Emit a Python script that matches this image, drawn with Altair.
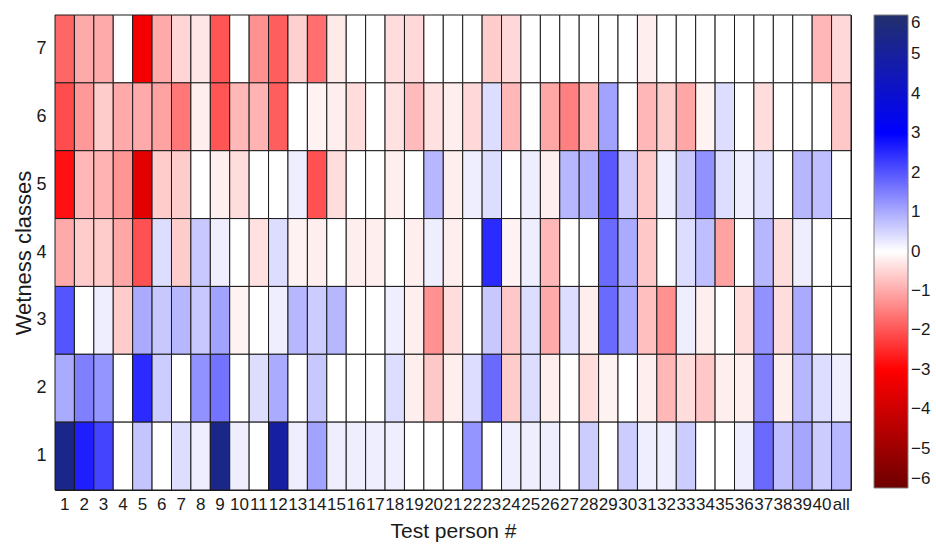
import altair as alt
import pandas as pd

persons = [str(i) for i in range(1, 41)] + ["all"]
classes = [7, 6, 5, 4, 3, 2, 1]

row7 = [-1.8, -1.0, -1.0, 0, -3.2, -1.0, -0.5, -0.3, -2.0, 0, -1.3, -1.9, -0.55, -1.7, -0.25, 0, 0, -0.4, -0.45, 0,
        0, 0, -0.6, -0.45, 0, 0, 0, 0, 0, 0, -0.2, 0, 0, 0, 0, 0, 0, 0, 0, -0.85, -0.45]
row6 = [-2.1, -1.2, -0.6, -1.0, -1.0, -1.1, -1.6, -0.2, -2.0, -0.85, -0.9, -1.9, 0, -0.15, -0.2, -0.4, 0, -0.35, -0.8, -0.35,
        -0.2, -0.45, 0.4, -0.85, 0, -1.05, -1.5, -0.85, 1.1, 0, -0.85, -0.6, -1.05, -0.15, 0.4, 0, -0.4, 0, 0, 0, -0.65]
row5 = [-2.8, -0.85, -0.9, -1.25, -3.6, -0.6, -0.6, 0, -0.2, -0.4, 0, 0, 0.2, -2.05, -0.4, 0, 0, -0.2, 0, 0.85,
        -0.2, 0.2, 0.4, 0, 0.2, -0.2, 0.85, 0.95, 1.95, 0.65, -0.65, 0.2, 0.65, 1.3, 0.4, 0.2, 0.4, 0, 0.85, 0.75, 0]
row4 = [-1.0, -0.6, -0.6, -1.05, -2.05, 0.4, -0.6, 0.65, 0.2, 0, -0.35, 0.4, -0.15, -0.2, 0, -0.2, -0.2, 0, -0.2, 0.2,
        -0.2, 0, 2.5, -0.15, 0.2, -0.85, 0, 0, 1.75, 1.0, -0.65, 0, 0.4, 0.75, -1.1, 0, 0.85, -0.4, 0.2, 0, 0]
row3 = [2.0, 0, 0.2, -0.6, 1.0, 0.65, 0.85, 0.65, 1.1, -0.15, 0, 0.2, 0.85, 0.6, 0.85, 0, 0, 0.2, -0.2, -1.3,
        -0.4, 0, 0.65, -0.65, 0.4, -1.0, 0.4, -0.2, 1.75, 1.0, -0.75, -1.3, 0.2, -0.2, 0, -0.4, 1.3, -0.4, 1.0, 0, 0]
row2 = [1.0, 1.5, 1.25, 0, 2.5, 0.6, 0, 1.3, 1.65, 0, 0.4, 1.0, 0, 0.65, 0, 0, 0, 0.4, -0.2, -0.65,
        -0.2, 0.4, 1.75, -0.6, 0.4, -0.2, 0, -0.4, -0.15, 0, -0.2, -0.85, -0.4, -0.65, -0.2, -0.2, 1.5, -0.2, 0.85, 0.4, 0.2]
row1 = [5.4, 2.65, 2.2, 0, 0.7, 0, 0.4, 0.2, 5.4, 0.2, 0, 4.9, 0.2, 1.1, 0.2, 0.2, 0.2, 0.2, 0, 0,
        0, 1.25, 0, 0.2, 0.2, 0.2, 0, 0.6, 0, 0.6, 0.2, 0.2, 0.6, 0, 0, 0.2, 1.75, 0.75, 1.05, 0.6, 0.85]

rows = [row7, row6, row5, row4, row3, row2, row1]
records = []
for cls, vals in zip(classes, rows):
    for p, v in zip(persons, vals):
        records.append({"person": p, "cls": str(cls), "value": v})
df = pd.DataFrame(records)

FONT = "Liberation Sans"

chart = alt.Chart(df).mark_rect(stroke="#1a1a1a", strokeWidth=1).encode(
    x=alt.X("person:N", sort=persons,
            axis=alt.Axis(title="Test person #", labelAngle=0, labelFontSize=17, titleFontSize=21,
                          labelOverlap=False, ticks=False, domain=False, labelPadding=6,
                          titlePadding=8, titleFontWeight="normal", labelColor="#1a1a1a",
                          titleColor="#1a1a1a", labelFont=FONT, titleFont=FONT)),
    y=alt.Y("cls:N", sort=[str(c) for c in classes],
            axis=alt.Axis(title="Wetness classes", labelFontSize=18, titleFontSize=22,
                          ticks=False, domain=False, labelPadding=9, titlePadding=0,
                          titleFontWeight="normal", labelColor="#1a1a1a", titleColor="#1a1a1a",
                          labelFont=FONT, titleFont=FONT)),
    color=alt.Color("value:Q",
                    scale=alt.Scale(domain=[-6, -3, 0, 3, 6],
                                    range=["#6e0000", "#ff0000", "#ffffff", "#0000ff", "#22306c"],
                                    interpolate="rgb"),
                    legend=alt.Legend(title=None, orient="right", offset=23, padding=0,
                                      gradientLength=473, gradientThickness=34,
                                      gradientStrokeColor="#808080", gradientStrokeWidth=1,
                                      values=list(range(-6, 7)), labelOverlap=False,
                                      labelFontSize=17, labelFont=FONT, labelColor="#1a1a1a",
                                      labelBaseline="middle", labelOffset=3, direction="vertical")),
).properties(
    width=796, height=475,
    autosize=alt.AutoSizeParams(type="none"),
    padding={"left": 55, "top": 15, "right": 85, "bottom": 55},
).configure_view(stroke="#1a1a1a", strokeWidth=1).configure_scale(bandPaddingInner=0, bandPaddingOuter=0)

chart.save("out.html", embed_options={"renderer": "svg", "actions": False})
